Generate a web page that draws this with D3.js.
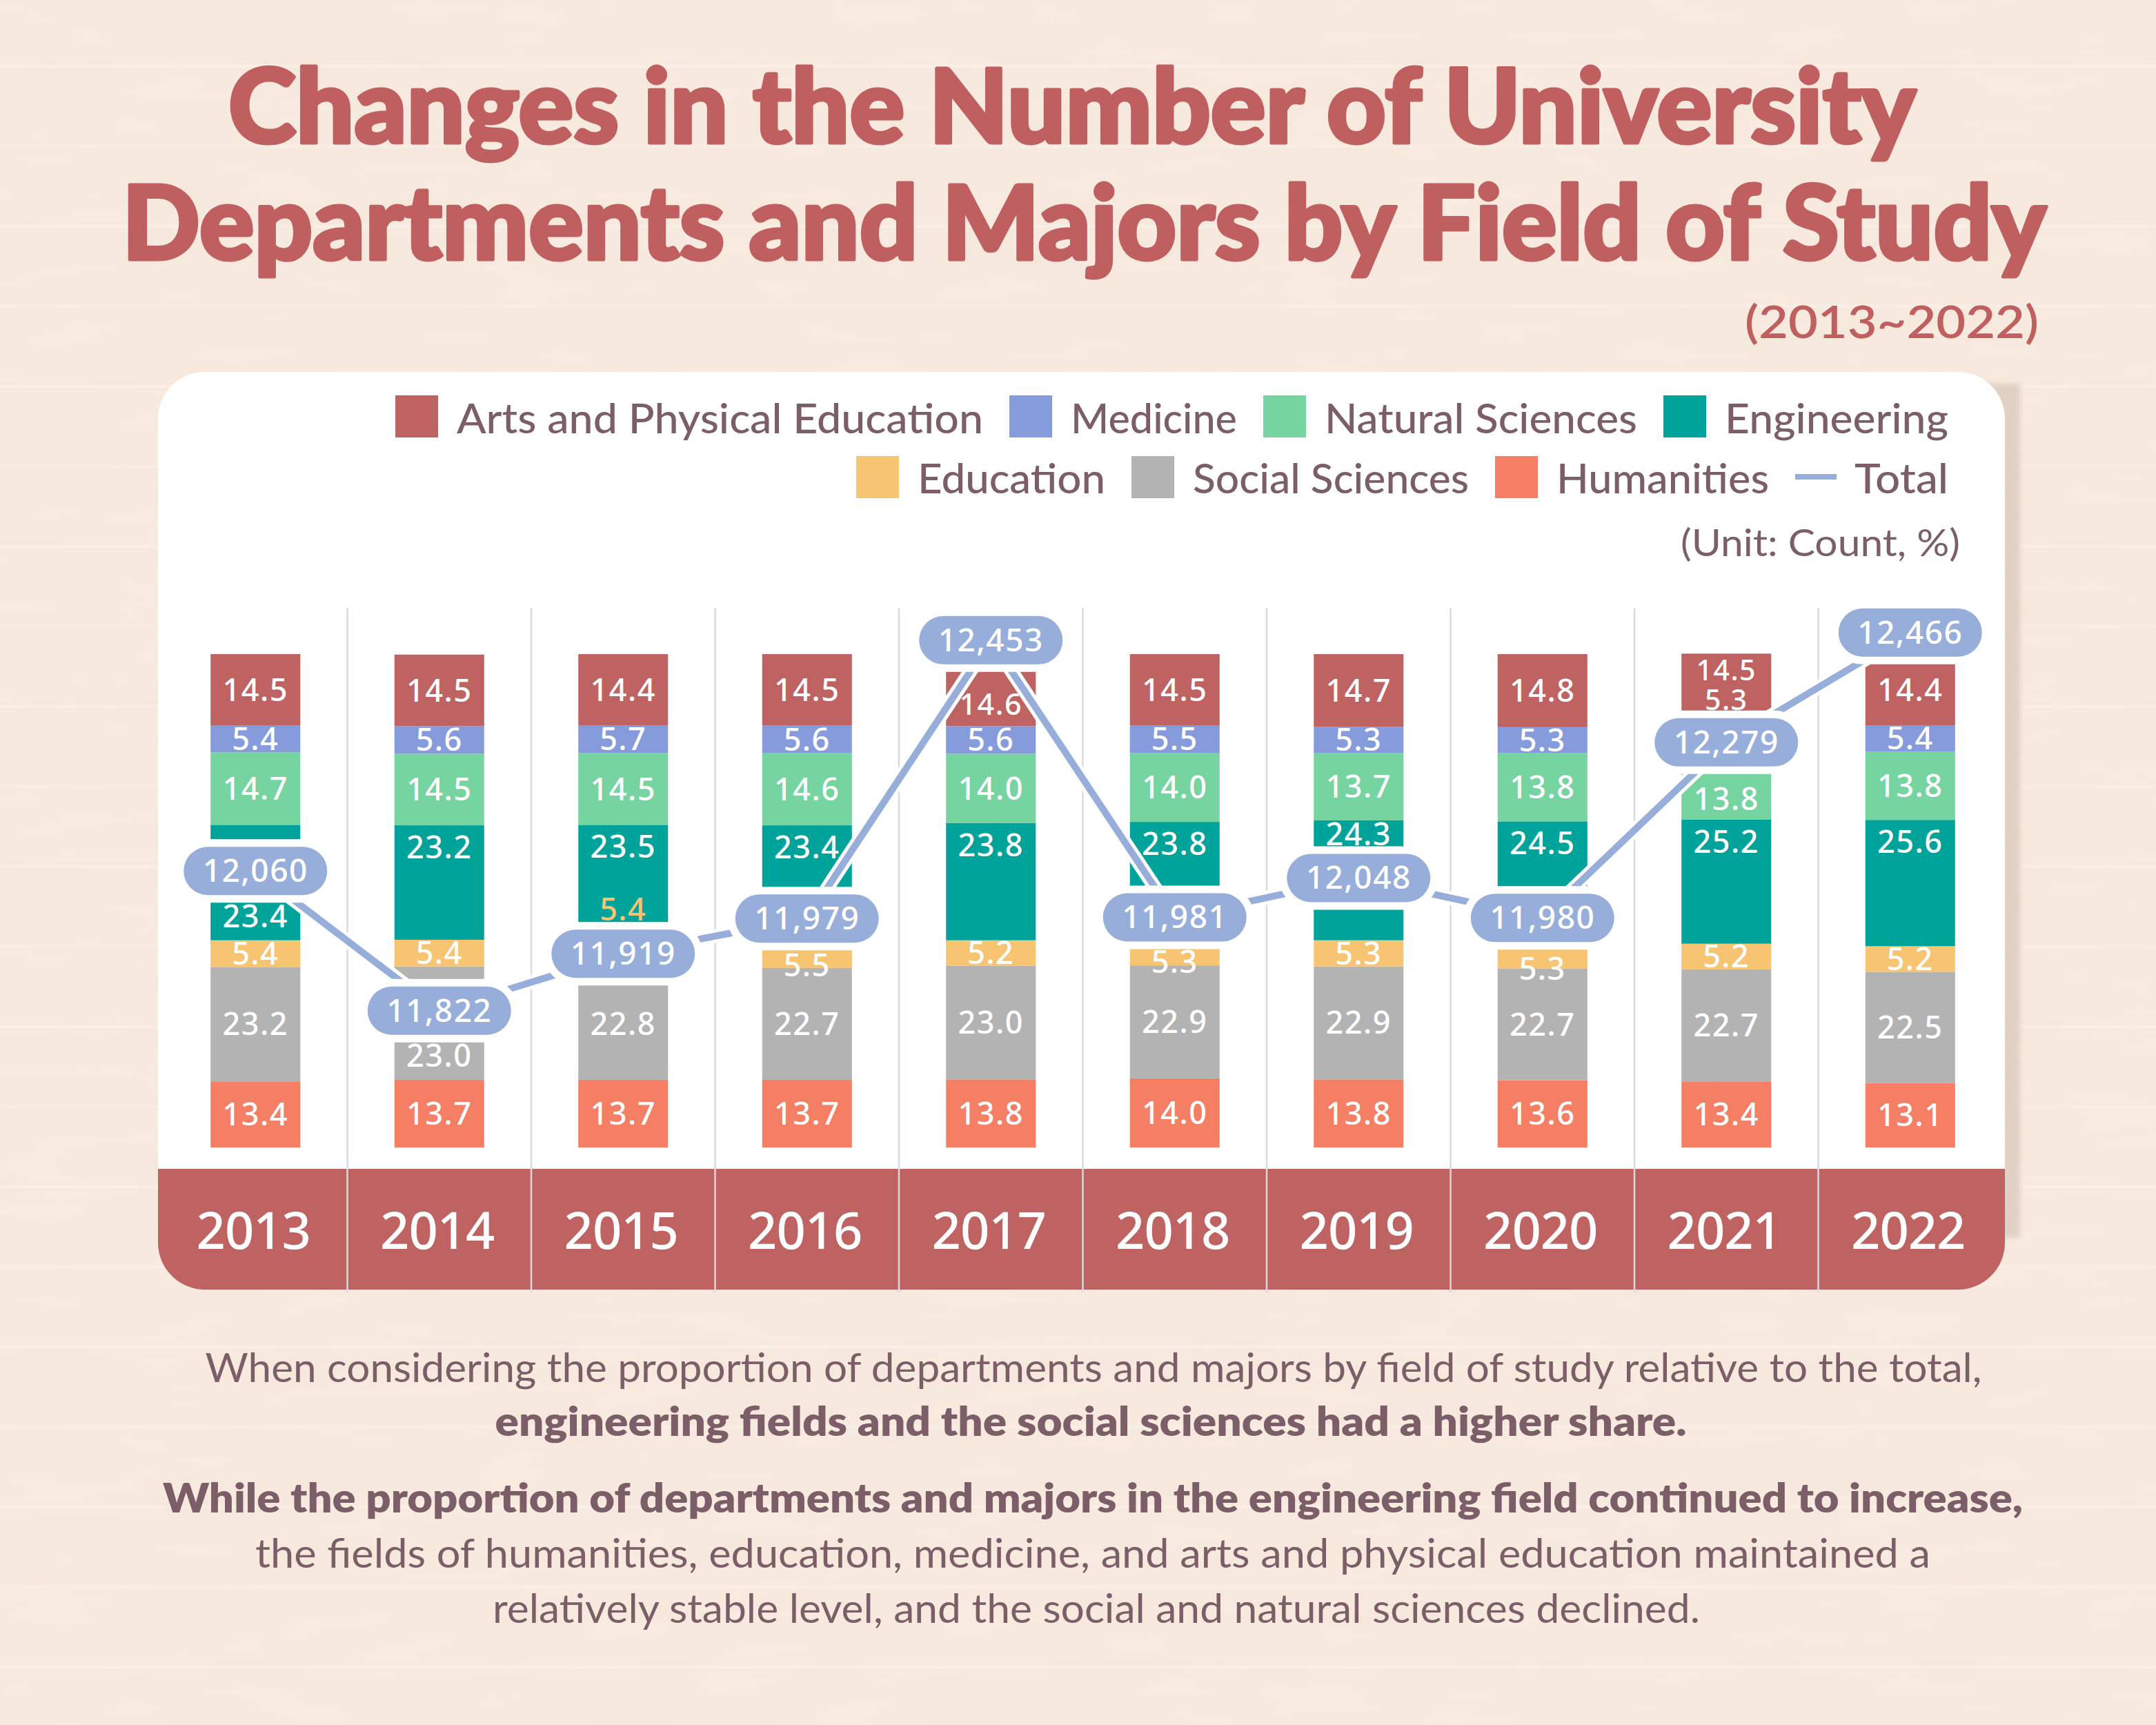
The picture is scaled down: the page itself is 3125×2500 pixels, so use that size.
<!DOCTYPE html>
<html><head><meta charset="utf-8">
<script src="https://cdn.jsdelivr.net/npm/d3@7"></script>
<style>html,body{margin:0;padding:0;background:#f7e9dd;} svg{display:block}</style>
</head><body>
<svg id="chart" width="3125" height="2500"></svg>
<script>
// ---------------- DATA ----------------
const years = ["2013","2014","2015","2016","2017","2018","2019","2020","2021","2022"];
const fields = ["Arts and Physical Education","Medicine","Natural Sciences","Engineering","Education","Social Sciences","Humanities"];
const arts        = [14.5,14.5,14.4,14.5,14.6,14.5,14.7,14.8,14.5,14.4];
const medicine    = [5.4,5.6,5.7,5.6,5.6,5.5,5.3,5.3,5.3,5.4];
const natural     = [14.7,14.5,14.5,14.6,14.0,14.0,13.7,13.8,13.8,13.8];
const engineering = [23.4,23.2,23.5,23.4,23.8,23.8,24.3,24.5,25.2,25.6];
const education   = [5.4,5.4,5.4,5.5,5.2,5.3,5.3,5.3,5.2,5.2];
const social      = [23.2,23.0,22.8,22.7,23.0,22.9,22.9,22.7,22.7,22.5];
const humanities  = [13.4,13.7,13.7,13.7,13.8,14.0,13.8,13.6,13.4,13.1];
const total       = [12060,11822,11919,11979,12453,11981,12048,11980,12279,12466];
const legendRow1 = ["Arts and Physical Education","Medicine","Natural Sciences","Engineering"];
const legendRow2 = ["Education","Social Sciences","Humanities","Total"];

// ---------------- STYLE / LAYOUT ----------------
const colors = {
  "Arts and Physical Education":"#bf6262",
  "Medicine":"#859bdb",
  "Natural Sciences":"#76d4a0",
  "Engineering":"#00a39a",
  "Education":"#f7c472",
  "Social Sciences":"#b3b3b3",
  "Humanities":"#f47f64",
  "Total":"#97aedb"
};
const seriesData = {
  "Arts and Physical Education":arts, "Medicine":medicine, "Natural Sciences":natural,
  "Engineering":engineering, "Education":education, "Social Sciences":social, "Humanities":humanities
};
const textColor = "#7b5e68";
const titleColor = "#c05f5f";
const numFont = "'Noto Sans', 'DejaVu Sans', sans-serif";
const txtFont = "Lato, 'Noto Sans', sans-serif";
// label nudges (px) where bubbles hide the default spot
const labelShift = {
  "2013|Engineering":101, "2014|Social Sciences":47, "2015|Education":-65,
  "2016|Education":16, "2017|Arts and Physical Education":20, "2018|Education":14,
  "2019|Engineering":-12, "2020|Education":19, "2021|Arts and Physical Education":-28,
  "2021|Medicine":-56, "2021|Natural Sciences":20
};
const labelSize = {"2021|Arts and Physical Education":41, "2021|Medicine":41, "2017|Arts and Physical Education":43};
const labelFill = {"2015|Education":"#f7c472"};
const legendTextLen = {
  "Arts and Physical Education":763, "Medicine":241, "Natural Sciences":453, "Engineering":324,
  "Education":272, "Social Sciences":400, "Humanities":308, "Total":136
};

const W=3125, H=2500;
const card = {x0:229, x1:2906, y0:539, y1:1869, r:68};
const stripTop = 1694;
const svg = d3.select("#chart");
const defs = svg.append("defs");

// paper texture
const f = defs.append("filter").attr("id","paper").attr("x",0).attr("y",0).attr("width","100%").attr("height","100%");
f.append("feTurbulence").attr("type","fractalNoise").attr("baseFrequency","0.006 0.03").attr("numOctaves",3).attr("seed",7);
f.append("feColorMatrix").attr("type","matrix")
 .attr("values","0 0 0 0 0.84  0 0 0 0 0.74  0 0 0 0 0.64  0 0 0 0.45 -0.12");
const blur = defs.append("filter").attr("id","sh").attr("x","-50%").attr("y","-5%").attr("width","200%").attr("height","110%");
blur.append("feGaussianBlur").attr("stdDeviation",3);

svg.append("rect").attr("width",W).attr("height",H).attr("fill","#f8eadf");
svg.append("rect").attr("width",W).attr("height",H).attr("filter","url(#paper)");
svg.append("g").selectAll("line").data(d3.range(96, H, 116)).join("line")
  .attr("x1",0).attr("x2",W).attr("y1",d=>d).attr("y2",d=>d)
  .attr("stroke","#ffffff").attr("stroke-opacity",0.22).attr("stroke-width",5);

// ---------------- TITLE ----------------
const title = svg.append("g").attr("fill",titleColor).attr("stroke",titleColor).attr("stroke-width",5)
  .attr("stroke-linejoin","round").attr("font-family","Lato, 'Noto Sans', sans-serif").attr("font-weight",900);
title.append("text").attr("x",331).attr("y",207).attr("font-size",148)
  .attr("textLength",2446).attr("lengthAdjust","spacingAndGlyphs").text("Changes in the Number of University");
title.append("text").attr("x",177).attr("y",376).attr("font-size",148)
  .attr("textLength",2789).attr("lengthAdjust","spacingAndGlyphs").text("Departments and Majors by Field of Study");
svg.append("text").attr("x",2955).attr("y",490).attr("text-anchor","end")
  .attr("font-family",txtFont).attr("font-weight",600).attr("font-size",66).attr("fill",titleColor)
  .attr("textLength",426).attr("lengthAdjust","spacingAndGlyphs").text("(2013~2022)");

// ---------------- CARD ----------------
svg.append("rect").attr("x",card.x1-30).attr("y",556).attr("width",52).attr("height",1238)
  .attr("fill","#dccbbd").attr("opacity",0.8).attr("filter","url(#sh)");
defs.append("clipPath").attr("id","cardClip").append("rect")
  .attr("x",card.x0).attr("y",card.y0).attr("width",card.x1-card.x0).attr("height",card.y1-card.y0).attr("rx",card.r);
svg.append("rect").attr("x",card.x0).attr("y",card.y0).attr("width",card.x1-card.x0).attr("height",card.y1-card.y0)
  .attr("rx",card.r).attr("fill","#ffffff");
svg.append("rect").attr("clip-path","url(#cardClip)").attr("x",card.x0).attr("y",stripTop)
  .attr("width",card.x1-card.x0).attr("height",card.y1-stripTop+2).attr("fill",colors["Arts and Physical Education"]);

// ---------------- SCALES ----------------
const x = d3.scaleBand().domain(years).range([237, 2902]).paddingInner(0.512).paddingOuter(0.256);
const step = x.step();
const cx = yr => x(yr) + x.bandwidth()/2;
const y = d3.scaleLinear().domain([0,100]).range([1663, 948]);
const yT = d3.scaleLinear().domain([11800,12500]).range([1483.5, 887.8]);

// separators
svg.append("g").selectAll("line").data(years.slice(1)).join("line")
  .attr("x1",d=>cx(d)-step/2).attr("x2",d=>cx(d)-step/2).attr("y1",881).attr("y2",1873)
  .attr("stroke","#dadada").attr("stroke-width",2.5);

// ---------------- STACKED BARS ----------------
const rows = years.map((yr,i)=>{ const o={year:yr}; fields.forEach(k=>o[k]=seriesData[k][i]); return o; });
const stackKeys = fields.slice().reverse(); // bottom -> top
const stacked = d3.stack().keys(stackKeys)(rows);

const barG = svg.append("g");
stacked.forEach(layer=>{
  barG.append("g").attr("fill",colors[layer.key]).selectAll("rect").data(layer).join("rect")
    .attr("x",d=>x(d.data.year)).attr("width",x.bandwidth())
    .attr("y",d=>y(d[1])).attr("height",d=>y(d[0])-y(d[1]));
});
const labG = svg.append("g").attr("font-family",numFont).attr("font-weight",500)
  .attr("text-anchor","middle").attr("letter-spacing",1.5);
stacked.forEach(layer=>{
  labG.selectAll(null).data(layer).join("text")
    .attr("x",d=>cx(d.data.year))
    .attr("font-size",d=>labelSize[d.data.year+"|"+layer.key]||45)
    .attr("y",d=>{
      const key = d.data.year+"|"+layer.key;
      const fs = labelSize[key]||45;
      let c = layer.key==="Engineering" ? y(d[1])+32 : (y(d[0])+y(d[1]))/2;
      return c + (labelShift[key]||0) + fs*0.356;
    })
    .attr("fill",d=>labelFill[d.data.year+"|"+layer.key]||"#ffffff")
    .text(d=>d3.format(".1f")(d.data[layer.key]));
});

// ---------------- TOTAL LINE ----------------
const line = d3.line().x((v,i)=>cx(years[i])).y(v=>yT(v));
svg.append("path").datum(total).attr("d",line).attr("fill","none")
  .attr("stroke","#ffffff").attr("stroke-width",20).attr("stroke-linejoin","round");
svg.append("path").datum(total).attr("d",line).attr("fill","none")
  .attr("stroke",colors.Total).attr("stroke-width",10).attr("stroke-linejoin","round");

const pw=208, ph=70;
const pills = svg.append("g").selectAll("g").data(total).join("g")
  .attr("transform",(v,i)=>`translate(${cx(years[i])},${yT(v)})`);
pills.append("rect").attr("x",-pw/2).attr("y",-ph/2).attr("width",pw).attr("height",ph).attr("rx",ph/2)
  .attr("fill","#ffffff").attr("stroke","#ffffff").attr("stroke-width",22);
pills.append("rect").attr("x",-pw/2).attr("y",-ph/2).attr("width",pw).attr("height",ph).attr("rx",ph/2)
  .attr("fill",colors.Total);
pills.append("text").attr("text-anchor","middle").attr("y",16)
  .attr("font-family",numFont).attr("font-weight",500).attr("font-size",46).attr("letter-spacing",1.5)
  .attr("fill","#ffffff").text(v=>d3.format(",")(v));

// ---------------- YEAR AXIS ----------------
svg.append("g").selectAll("text").data(years).join("text")
  .attr("x",d=>cx(d)-3).attr("y",1810).attr("text-anchor","middle")
  .attr("font-family",numFont).attr("font-weight",500).attr("font-size",74).attr("letter-spacing",-1)
  .attr("fill","#ffffff").text(d=>d);

// ---------------- LEGEND ----------------
const legG = svg.append("g").attr("font-family",txtFont).attr("font-weight",500).attr("font-size",60).attr("fill",textColor);
function drawRow(items, baseline, boxTop){
  let right = 2824;
  items.slice().reverse().forEach(name=>{
    const tw = legendTextLen[name];
    const tx = right - tw;
    legG.append("text").attr("x",tx).attr("y",baseline).attr("textLength",tw)
      .attr("lengthAdjust","spacingAndGlyphs").text(name);
    if(name==="Total"){
      legG.append("rect").attr("x",tx-26-60).attr("y",boxTop+30-4).attr("width",60).attr("height",8).attr("fill",colors.Total);
      right = tx-26-60-38;
    } else {
      legG.append("rect").attr("x",tx-27-62).attr("y",boxTop).attr("width",62).attr("height",61).attr("fill",colors[name]);
      right = tx-27-62-38;
    }
  });
}
drawRow(legendRow1, 628, 573);
drawRow(legendRow2, 715, 661);
svg.append("text").attr("x",2841).attr("y",806).attr("text-anchor","end")
  .attr("font-family",txtFont).attr("font-weight",400).attr("font-size",54).attr("fill",textColor)
  .attr("textLength",405).attr("lengthAdjust","spacingAndGlyphs").text("(Unit: Count, %)");

// ---------------- NOTE TEXT ----------------
const notes = [
  {t:"When considering the proportion of departments and majors by field of study relative to the total,", w:400, cx:1585, y:2003, len:2575},
  {t:"engineering fields and the social sciences had a higher share.", w:800, cx:1581, y:2081, len:1727},
  {t:"While the proportion of departments and majors in the engineering field continued to increase,", w:800, cx:1584, y:2192, len:2696},
  {t:"the fields of humanities, education, medicine, and arts and physical education maintained a", w:400, cx:1584, y:2272, len:2428},
  {t:"relatively stable level, and the social and natural sciences declined.", w:400, cx:1589, y:2352, len:1750}
];
svg.append("g").selectAll("text").data(notes).join("text")
  .attr("x",d=>d.cx-d.len/2).attr("y",d=>d.y)
  .attr("font-family",txtFont).attr("font-size",58).attr("font-weight",d=>d.w).attr("fill",textColor)
  .attr("textLength",d=>d.len).attr("lengthAdjust","spacingAndGlyphs").text(d=>d.t);
</script></body></html>
